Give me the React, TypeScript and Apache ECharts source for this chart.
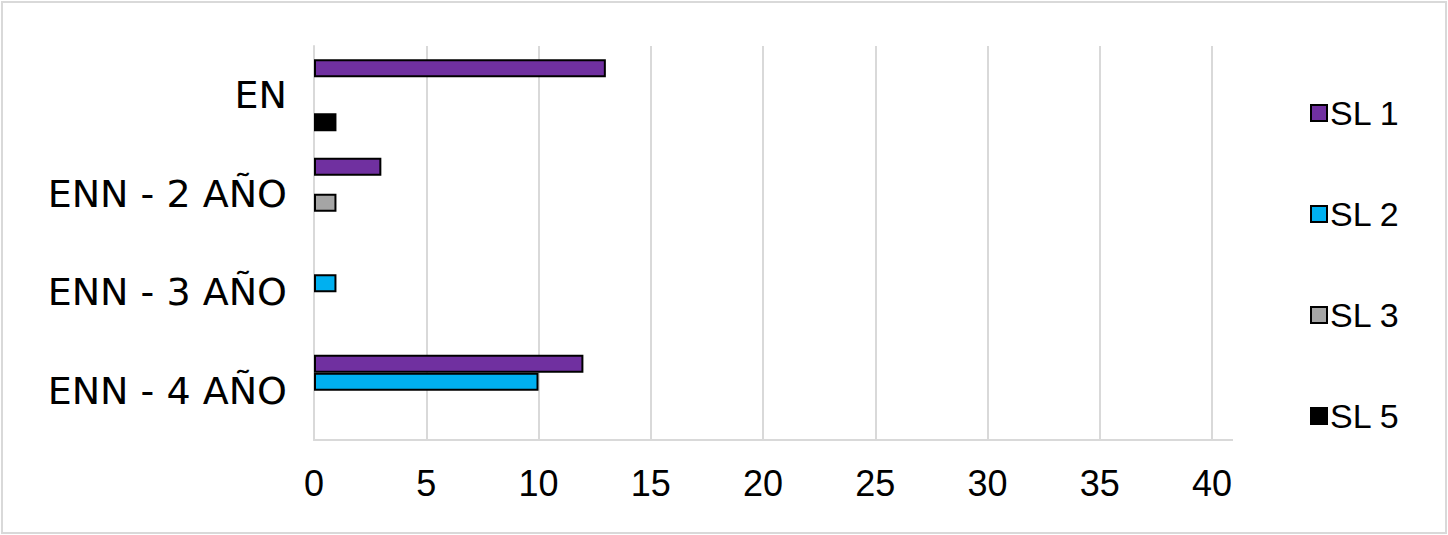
import React, { useEffect, useRef } from "react";
import * as echarts from "echarts";

const categories = ["EN", "ENN - 2 AÑO", "ENN - 3 AÑO", "ENN - 4 AÑO"];
const seriesNames = ["SL 1", "SL 2", "SL 3", "SL 5"];
const seriesColors = ["#7030A0", "#00B0F0", "#A5A5A5", "#000000"];
const sl1 = [13, 3, null, 12];
const sl2 = [null, null, 1, 10];
const sl3 = [null, 1, null, null];
const sl5 = [1, null, null, null];
const seriesValues = [sl1, sl2, sl3, sl5];
const xMin = 0;
const xMax = 40;
const xInterval = 5;

const narrow = "'Liberation Sans Narrow', 'Liberation Sans', Arial, sans-serif";
const wide = "'DejaVu Sans', 'Liberation Sans', sans-serif";

export default function App() {
  const ref = useRef<HTMLDivElement>(null);
  useEffect(() => {
    if (!ref.current) return;
    const chart = echarts.init(ref.current, undefined, { renderer: "svg" });
    const W = 1448;
    const H = 535;
    const gridLeft = 314;
    const gridRight = 236;
    const gridTop = 46;
    const gridBottom = 95;
    chart.setOption({
      animation: false,
      backgroundColor: "#ffffff",
      grid: { left: gridLeft, right: gridRight, top: gridTop, bottom: gridBottom, containLabel: false },
      legend: {
        orient: "vertical",
        left: 1305,
        top: 90,
        itemWidth: 16,
        itemHeight: 16,
        itemGap: 65,
        icon: "rect",
        data: seriesNames,
        textStyle: { fontFamily: narrow, fontSize: 34, color: "#000", lineHeight: 36, padding: [0, 0, 0, -2] },
      },
      xAxis: {
        type: "value",
        min: xMin,
        max: xMax,
        interval: xInterval,
        axisLine: { show: true, lineStyle: { color: "#D9D9D9", width: 2 } },
        axisTick: { show: false },
        splitLine: { show: true, lineStyle: { color: "#D9D9D9", width: 2 } },
        axisLabel: { fontFamily: narrow, fontSize: 36, color: "#000", margin: 25 },
      },
      yAxis: {
        type: "category",
        inverse: true,
        data: categories,
        axisLine: { show: true, lineStyle: { color: "#D9D9D9", width: 2 } },
        axisTick: { show: false },
        axisLabel: { fontFamily: wide, fontSize: 38, color: "#000", margin: 27, padding: [6, 0, 0, 0] },
      },
      graphic: [
        {
          type: "rect",
          shape: { x: 2, y: 2, width: W - 4, height: H - 4 },
          style: { fill: "none", stroke: "#D9D9D9", lineWidth: 2 },
          silent: true,
        },
        {
          type: "line",
          shape: { x1: W - gridRight, y1: H - gridBottom, x2: W - gridRight + 21, y2: H - gridBottom },
          style: { stroke: "#D9D9D9", lineWidth: 2 },
          silent: true,
        },
      ],
      series: seriesNames.map((name, i) => ({
        name,
        type: "bar",
        data: seriesValues[i],
        barWidth: 18,
        barGap: "0%",
        itemStyle: { color: seriesColors[i], borderColor: "#000", borderWidth: 2 },
      })),
    });
    return () => chart.dispose();
  }, []);
  return (
    <div
      ref={ref}
      style={{ position: "absolute", left: 0, top: 0, width: 1448, height: 535 }}
    />
  );
}
